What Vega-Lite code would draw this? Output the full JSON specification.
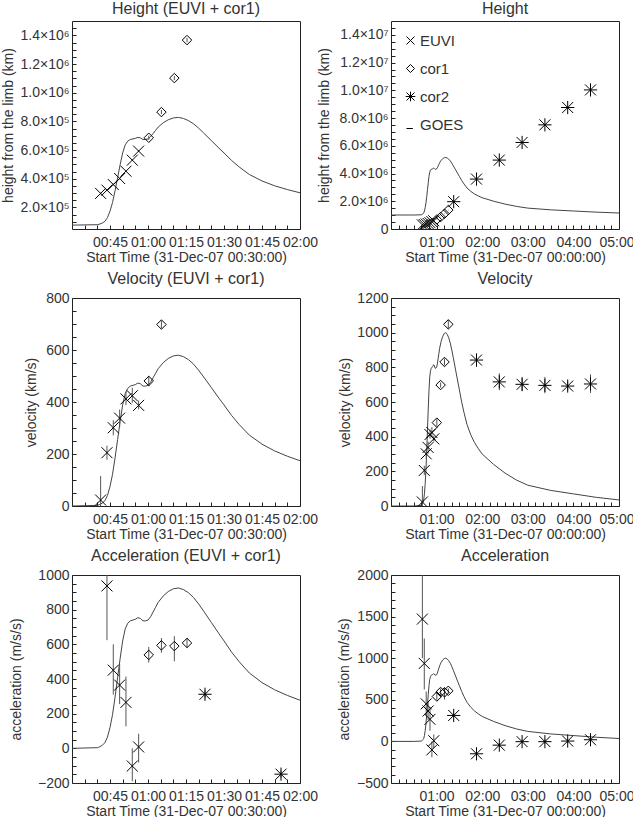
{
  "$schema": "https://vega.github.io/schema/vega-lite/v6.json",
  "background": "white",
  "padding": {"left": 1, "top": 0, "right": 0, "bottom": 0},
  "config": {
    "font": "Liberation Sans",
    "view": {"stroke": "#222", "strokeWidth": 1},
    "axis": {"grid": false, "domain": false, "labelFontSize": 14, "labelColor": "#333", "titleFontSize": 14, "titleFontWeight": "normal", "titleColor": "#333", "tickColor": "#222", "tickWidth": 1, "tickSize": 4, "offset": -4, "tickCount": 100, "labelOverlap": false},
    "axisX": {"labelPadding": 6, "titlePadding": 1},
    "axisY": {"labelPadding": 3},
    "title": {"fontSize": 16, "fontWeight": "normal", "color": "#333", "offset": 4, "anchor": "middle"}
  },
  "columns": 2,
  "bounds": "flush",
  "spacing": {"row": 69, "column": 91},
  "resolve": {"scale": {"x": "independent", "y": "independent", "shape": "independent"}, "legend": {"shape": "independent"}},
  "datasets": {
    "goes_flux": [
      {"t": "2007-12-31T00:00:00", "n": 0},
      {"t": "2007-12-31T00:30:00", "n": 0},
      {"t": "2007-12-31T00:40:00", "n": 0.004},
      {"t": "2007-12-31T00:41:00", "n": 0.01},
      {"t": "2007-12-31T00:42:00", "n": 0.02},
      {"t": "2007-12-31T00:43:00", "n": 0.035},
      {"t": "2007-12-31T00:44:00", "n": 0.07},
      {"t": "2007-12-31T00:45:00", "n": 0.13},
      {"t": "2007-12-31T00:46:00", "n": 0.21},
      {"t": "2007-12-31T00:47:00", "n": 0.32},
      {"t": "2007-12-31T00:48:00", "n": 0.44},
      {"t": "2007-12-31T00:49:00", "n": 0.56},
      {"t": "2007-12-31T00:50:00", "n": 0.67},
      {"t": "2007-12-31T00:51:00", "n": 0.745},
      {"t": "2007-12-31T00:52:00", "n": 0.78},
      {"t": "2007-12-31T00:53:00", "n": 0.795},
      {"t": "2007-12-31T00:55:00", "n": 0.805},
      {"t": "2007-12-31T00:56:00", "n": 0.815},
      {"t": "2007-12-31T00:57:00", "n": 0.81},
      {"t": "2007-12-31T00:58:00", "n": 0.795},
      {"t": "2007-12-31T00:59:00", "n": 0.795},
      {"t": "2007-12-31T01:00:00", "n": 0.8},
      {"t": "2007-12-31T01:01:00", "n": 0.82},
      {"t": "2007-12-31T01:02:00", "n": 0.85},
      {"t": "2007-12-31T01:03:00", "n": 0.88},
      {"t": "2007-12-31T01:04:00", "n": 0.91},
      {"t": "2007-12-31T01:06:00", "n": 0.95},
      {"t": "2007-12-31T01:08:00", "n": 0.978},
      {"t": "2007-12-31T01:10:00", "n": 0.995},
      {"t": "2007-12-31T01:12:00", "n": 1.0},
      {"t": "2007-12-31T01:14:00", "n": 0.99},
      {"t": "2007-12-31T01:16:00", "n": 0.97},
      {"t": "2007-12-31T01:18:00", "n": 0.94},
      {"t": "2007-12-31T01:20:00", "n": 0.9},
      {"t": "2007-12-31T01:22:00", "n": 0.855},
      {"t": "2007-12-31T01:25:00", "n": 0.785},
      {"t": "2007-12-31T01:28:00", "n": 0.715},
      {"t": "2007-12-31T01:30:00", "n": 0.67},
      {"t": "2007-12-31T01:33:00", "n": 0.6},
      {"t": "2007-12-31T01:36:00", "n": 0.54},
      {"t": "2007-12-31T01:40:00", "n": 0.47},
      {"t": "2007-12-31T01:45:00", "n": 0.41},
      {"t": "2007-12-31T01:50:00", "n": 0.365},
      {"t": "2007-12-31T01:55:00", "n": 0.33},
      {"t": "2007-12-31T02:00:00", "n": 0.3},
      {"t": "2007-12-31T02:15:00", "n": 0.24},
      {"t": "2007-12-31T02:30:00", "n": 0.19},
      {"t": "2007-12-31T02:45:00", "n": 0.15},
      {"t": "2007-12-31T03:00:00", "n": 0.12},
      {"t": "2007-12-31T03:30:00", "n": 0.09},
      {"t": "2007-12-31T04:00:00", "n": 0.07},
      {"t": "2007-12-31T04:30:00", "n": 0.05},
      {"t": "2007-12-31T05:00:00", "n": 0.035}
    ],
    "hgt": [
      {"inst": "EUVI", "t": "2007-12-31T00:41:18", "v": 298000, "lo": 292000, "hi": 304000},
      {"inst": "EUVI", "t": "2007-12-31T00:43:48", "v": 321000, "lo": 315000, "hi": 327000},
      {"inst": "EUVI", "t": "2007-12-31T00:46:18", "v": 360000, "lo": 354000, "hi": 366000},
      {"inst": "EUVI", "t": "2007-12-31T00:48:48", "v": 402000, "lo": 396000, "hi": 408000},
      {"inst": "EUVI", "t": "2007-12-31T00:51:18", "v": 453000, "lo": 447000, "hi": 459000},
      {"inst": "EUVI", "t": "2007-12-31T00:53:48", "v": 530000, "lo": 524000, "hi": 536000},
      {"inst": "EUVI", "t": "2007-12-31T00:56:18", "v": 593000, "lo": 587000, "hi": 599000},
      {"inst": "cor1", "t": "2007-12-31T01:00:18", "v": 686000, "lo": 671000, "hi": 701000},
      {"inst": "cor1", "t": "2007-12-31T01:05:18", "v": 865000, "lo": 850000, "hi": 880000},
      {"inst": "cor1", "t": "2007-12-31T01:10:24", "v": 1102000, "lo": 1087000, "hi": 1117000},
      {"inst": "cor1", "t": "2007-12-31T01:15:24", "v": 1367000, "lo": 1352000, "hi": 1382000},
      {"inst": "cor2", "t": "2007-12-31T01:22:30", "v": 1970000, "lo": 1920000, "hi": 2020000},
      {"inst": "cor2", "t": "2007-12-31T01:52:30", "v": 3600000, "lo": 3550000, "hi": 3650000},
      {"inst": "cor2", "t": "2007-12-31T02:22:30", "v": 4970000, "lo": 4920000, "hi": 5020000},
      {"inst": "cor2", "t": "2007-12-31T02:52:30", "v": 6240000, "lo": 6190000, "hi": 6290000},
      {"inst": "cor2", "t": "2007-12-31T03:22:30", "v": 7510000, "lo": 7460000, "hi": 7560000},
      {"inst": "cor2", "t": "2007-12-31T03:52:30", "v": 8760000, "lo": 8710000, "hi": 8810000},
      {"inst": "cor2", "t": "2007-12-31T04:22:30", "v": 10030000, "lo": 9980000, "hi": 10080000}
    ],
    "vel": [
      {"inst": "EUVI", "t": "2007-12-31T00:41:18", "v": 23, "lo": -70, "hi": 115},
      {"inst": "EUVI", "t": "2007-12-31T00:43:48", "v": 205, "lo": 178, "hi": 232},
      {"inst": "EUVI", "t": "2007-12-31T00:46:18", "v": 301, "lo": 272, "hi": 330},
      {"inst": "EUVI", "t": "2007-12-31T00:48:48", "v": 338, "lo": 301, "hi": 371},
      {"inst": "EUVI", "t": "2007-12-31T00:51:18", "v": 412, "lo": 388, "hi": 440},
      {"inst": "EUVI", "t": "2007-12-31T00:53:48", "v": 424, "lo": 397, "hi": 455},
      {"inst": "EUVI", "t": "2007-12-31T00:56:18", "v": 387, "lo": 372, "hi": 405},
      {"inst": "cor1", "t": "2007-12-31T01:00:18", "v": 481, "lo": 461, "hi": 501},
      {"inst": "cor1", "t": "2007-12-31T01:05:18", "v": 698, "lo": 683, "hi": 713},
      {"inst": "cor1", "t": "2007-12-31T01:10:24", "v": 831, "lo": 811, "hi": 851},
      {"inst": "cor1", "t": "2007-12-31T01:15:24", "v": 1048, "lo": 1023, "hi": 1073},
      {"inst": "cor2", "t": "2007-12-31T01:52:30", "v": 842, "lo": 805, "hi": 880},
      {"inst": "cor2", "t": "2007-12-31T02:22:30", "v": 716, "lo": 668, "hi": 766},
      {"inst": "cor2", "t": "2007-12-31T02:52:30", "v": 702, "lo": 662, "hi": 745},
      {"inst": "cor2", "t": "2007-12-31T03:22:30", "v": 696, "lo": 650, "hi": 745},
      {"inst": "cor2", "t": "2007-12-31T03:52:30", "v": 692, "lo": 667, "hi": 717},
      {"inst": "cor2", "t": "2007-12-31T04:22:30", "v": 704, "lo": 652, "hi": 760}
    ],
    "acc": [
      {"inst": "EUVI", "t": "2007-12-31T00:41:18", "v": 1470, "lo": 1000, "hi": 2600},
      {"inst": "EUVI", "t": "2007-12-31T00:43:48", "v": 937, "lo": 624, "hi": 1236},
      {"inst": "EUVI", "t": "2007-12-31T00:46:18", "v": 451, "lo": 310, "hi": 600},
      {"inst": "EUVI", "t": "2007-12-31T00:48:48", "v": 365, "lo": 255, "hi": 486},
      {"inst": "EUVI", "t": "2007-12-31T00:51:18", "v": 265, "lo": 127, "hi": 414},
      {"inst": "EUVI", "t": "2007-12-31T00:53:48", "v": -102, "lo": -190, "hi": 0},
      {"inst": "EUVI", "t": "2007-12-31T00:56:18", "v": 8, "lo": -82, "hi": 84},
      {"inst": "cor1", "t": "2007-12-31T01:00:18", "v": 539, "lo": 495, "hi": 585},
      {"inst": "cor1", "t": "2007-12-31T01:05:18", "v": 594, "lo": 552, "hi": 636},
      {"inst": "cor1", "t": "2007-12-31T01:10:24", "v": 590, "lo": 502, "hi": 647},
      {"inst": "cor1", "t": "2007-12-31T01:15:24", "v": 608, "lo": 578, "hi": 637},
      {"inst": "cor2", "t": "2007-12-31T01:22:30", "v": 312, "lo": 290, "hi": 335},
      {"inst": "cor2", "t": "2007-12-31T01:52:30", "v": -149, "lo": -170, "hi": -128},
      {"inst": "cor2", "t": "2007-12-31T02:22:30", "v": -45, "lo": -70, "hi": -20},
      {"inst": "cor2", "t": "2007-12-31T02:52:30", "v": -3, "lo": -25, "hi": 20},
      {"inst": "cor2", "t": "2007-12-31T03:22:30", "v": -3, "lo": -30, "hi": 25},
      {"inst": "cor2", "t": "2007-12-31T03:52:30", "v": 4, "lo": -20, "hi": 28},
      {"inst": "cor2", "t": "2007-12-31T04:22:30", "v": 20, "lo": -10, "hi": 50}
    ]
  },
  "concat": [
    {
      "title": "Height (EUVI + cor1)",
      "width": 228, "height": 208,
      "resolve": {"scale": {"y": "independent"}},
      "layer": [
        {
          "data": {"name": "goes_flux"},
          "mark": {"type": "line", "color": "#444", "strokeWidth": 1, "clip": true},
          "encoding": {
            "x": {"field": "t", "type": "temporal", "scale": {"domain": [{"year": 2007, "month": 12, "date": 31, "hours": 0, "minutes": 30}, {"year": 2007, "month": 12, "date": 31, "hours": 2, "minutes": 0}], "nice": false},
              "axis": {"values": [{"year": 2007, "month": 12, "date": 31, "hours": 0, "minutes": 35}, {"year": 2007, "month": 12, "date": 31, "hours": 0, "minutes": 40}, {"year": 2007, "month": 12, "date": 31, "hours": 0, "minutes": 45}, {"year": 2007, "month": 12, "date": 31, "hours": 0, "minutes": 50}, {"year": 2007, "month": 12, "date": 31, "hours": 0, "minutes": 55}, {"year": 2007, "month": 12, "date": 31, "hours": 1, "minutes": 0}, {"year": 2007, "month": 12, "date": 31, "hours": 1, "minutes": 5}, {"year": 2007, "month": 12, "date": 31, "hours": 1, "minutes": 10}, {"year": 2007, "month": 12, "date": 31, "hours": 1, "minutes": 15}, {"year": 2007, "month": 12, "date": 31, "hours": 1, "minutes": 20}, {"year": 2007, "month": 12, "date": 31, "hours": 1, "minutes": 25}, {"year": 2007, "month": 12, "date": 31, "hours": 1, "minutes": 30}, {"year": 2007, "month": 12, "date": 31, "hours": 1, "minutes": 35}, {"year": 2007, "month": 12, "date": 31, "hours": 1, "minutes": 40}, {"year": 2007, "month": 12, "date": 31, "hours": 1, "minutes": 45}, {"year": 2007, "month": 12, "date": 31, "hours": 1, "minutes": 50}, {"year": 2007, "month": 12, "date": 31, "hours": 1, "minutes": 55}, {"year": 2007, "month": 12, "date": 31, "hours": 2, "minutes": 0}],
                "labelExpr": "(hours(datum.value) * 60 + minutes(datum.value)) % 15 == 0 ? timeFormat(datum.value, '%H:%M') : ''", "tickCount": 100, "labelOverlap": false, "labelFlush": false, "title": "Start Time (31-Dec-07 00:30:00)"}},
            "y": {"field": "n", "type": "quantitative", "scale": {"domain": [-0.036, 1.895], "nice": false, "zero": false}, "axis": null}
          }
        },
        {
          "data": {"name": "hgt"},
          "layer": [
            {
              "mark": {"type": "rule", "color": "#555", "strokeWidth": 1, "clip": true},
              "encoding": {
                "x": {"field": "t", "type": "temporal"},
                "y": {"field": "lo", "type": "quantitative", "scale": {"domain": [50000, 1500000], "nice": false, "zero": false},
                  "axis": {"values": [100000, 150000, 200000, 250000, 300000, 350000, 400000, 450000, 500000, 550000, 600000, 650000, 700000, 750000, 800000, 850000, 900000, 950000, 1000000, 1050000, 1100000, 1150000, 1200000, 1250000, 1300000, 1350000, 1400000, 1450000],
                    "labelExpr": "datum.value % 200000 != 0 ? '' : datum.value >= 1e6 ? format(datum.value / 1e6, '.1f') + '×10⁶' : format(datum.value / 1e5, '.1f') + '×10⁵'", "tickCount": 100, "labelOverlap": false, "title": "height from the limb (km)", "titlePadding": 4}},
                "y2": {"field": "hi"}
              }
            },
            {
              "transform": [{"filter": "datum.inst === 'EUVI'"}],
              "mark": {"type": "point", "shape": "M-1,-1L1,1M-1,1L1,-1", "size": 121, "filled": false, "color": "black", "strokeWidth": 1, "opacity": 1, "clip": true},
              "encoding": {"x": {"field": "t", "type": "temporal"}, "y": {"field": "v", "type": "quantitative"}}
            },
            {
              "transform": [{"filter": "datum.inst === 'cor1'"}],
              "mark": {"type": "point", "shape": "diamond", "size": 90, "filled": false, "color": "black", "strokeWidth": 1, "opacity": 1, "clip": true},
              "encoding": {"x": {"field": "t", "type": "temporal"}, "y": {"field": "v", "type": "quantitative"}}
            },
            {
              "transform": [{"filter": "datum.inst === 'cor2'"}],
              "mark": {"type": "point", "shape": "M-1,-1L1,1M-1,1L1,-1M0,-1.2L0,1.2M-1.2,0L1.2,0", "size": 121, "filled": false, "color": "black", "strokeWidth": 1, "opacity": 1, "clip": true},
              "encoding": {"x": {"field": "t", "type": "temporal"}, "y": {"field": "v", "type": "quantitative"}}
            }
          ]
        }
      ]
    },
    {
      "title": "Height",
      "width": 228, "height": 208,
      "resolve": {"scale": {"y": "independent"}},
      "layer": [
        {
          "data": {"name": "goes_flux"},
          "mark": {"type": "line", "color": "#444", "strokeWidth": 1, "clip": true},
          "encoding": {
            "x": {"field": "t", "type": "temporal", "scale": {"domain": [{"year": 2007, "month": 12, "date": 31, "hours": 0, "minutes": 0}, {"year": 2007, "month": 12, "date": 31, "hours": 5, "minutes": 0}], "nice": false},
              "axis": {"values": [{"year": 2007, "month": 12, "date": 31, "hours": 0, "minutes": 10}, {"year": 2007, "month": 12, "date": 31, "hours": 0, "minutes": 20}, {"year": 2007, "month": 12, "date": 31, "hours": 0, "minutes": 30}, {"year": 2007, "month": 12, "date": 31, "hours": 0, "minutes": 40}, {"year": 2007, "month": 12, "date": 31, "hours": 0, "minutes": 50}, {"year": 2007, "month": 12, "date": 31, "hours": 1, "minutes": 0}, {"year": 2007, "month": 12, "date": 31, "hours": 1, "minutes": 10}, {"year": 2007, "month": 12, "date": 31, "hours": 1, "minutes": 20}, {"year": 2007, "month": 12, "date": 31, "hours": 1, "minutes": 30}, {"year": 2007, "month": 12, "date": 31, "hours": 1, "minutes": 40}, {"year": 2007, "month": 12, "date": 31, "hours": 1, "minutes": 50}, {"year": 2007, "month": 12, "date": 31, "hours": 2, "minutes": 0}, {"year": 2007, "month": 12, "date": 31, "hours": 2, "minutes": 10}, {"year": 2007, "month": 12, "date": 31, "hours": 2, "minutes": 20}, {"year": 2007, "month": 12, "date": 31, "hours": 2, "minutes": 30}, {"year": 2007, "month": 12, "date": 31, "hours": 2, "minutes": 40}, {"year": 2007, "month": 12, "date": 31, "hours": 2, "minutes": 50}, {"year": 2007, "month": 12, "date": 31, "hours": 3, "minutes": 0}, {"year": 2007, "month": 12, "date": 31, "hours": 3, "minutes": 10}, {"year": 2007, "month": 12, "date": 31, "hours": 3, "minutes": 20}, {"year": 2007, "month": 12, "date": 31, "hours": 3, "minutes": 30}, {"year": 2007, "month": 12, "date": 31, "hours": 3, "minutes": 40}, {"year": 2007, "month": 12, "date": 31, "hours": 3, "minutes": 50}, {"year": 2007, "month": 12, "date": 31, "hours": 4, "minutes": 0}, {"year": 2007, "month": 12, "date": 31, "hours": 4, "minutes": 10}, {"year": 2007, "month": 12, "date": 31, "hours": 4, "minutes": 20}, {"year": 2007, "month": 12, "date": 31, "hours": 4, "minutes": 30}, {"year": 2007, "month": 12, "date": 31, "hours": 4, "minutes": 40}, {"year": 2007, "month": 12, "date": 31, "hours": 4, "minutes": 50}, {"year": 2007, "month": 12, "date": 31, "hours": 5, "minutes": 0}],
                "labelExpr": "minutes(datum.value) == 0 ? timeFormat(datum.value, '%H:%M') : ''", "tickCount": 100, "labelOverlap": false, "labelFlush": true, "labelFlushOffset": 15, "title": "Start Time (31-Dec-07 00:00:00)"}},
            "y": {"field": "n", "type": "quantitative", "scale": {"domain": [-0.243, 3.371], "nice": false, "zero": false}, "axis": null}
          }
        },
        {
          "data": {"name": "hgt"},
          "layer": [
            {
              "mark": {"type": "rule", "color": "#555", "strokeWidth": 1, "clip": true},
              "encoding": {
                "x": {"field": "t", "type": "temporal"},
                "y": {"field": "lo", "type": "quantitative", "scale": {"domain": [0, 15000000], "nice": false, "zero": false},
                  "axis": {"values": [0, 500000, 1000000, 1500000, 2000000, 2500000, 3000000, 3500000, 4000000, 4500000, 5000000, 5500000, 6000000, 6500000, 7000000, 7500000, 8000000, 8500000, 9000000, 9500000, 10000000, 10500000, 11000000, 11500000, 12000000, 12500000, 13000000, 13500000, 14000000, 14500000],
                    "labelExpr": "datum.value % 2000000 != 0 ? '' : datum.value == 0 ? '0' : datum.value >= 1e7 ? format(datum.value / 1e7, '.1f') + '×10⁷' : format(datum.value / 1e6, '.1f') + '×10⁶'", "tickCount": 100, "labelOverlap": false, "title": "height from the limb (km)", "titlePadding": 8}},
                "y2": {"field": "hi"}
              }
            },
            {
              "transform": [{"filter": "datum.inst === 'EUVI'"}],
              "mark": {"type": "point", "size": 121, "filled": false, "color": "black", "strokeWidth": 1, "opacity": 1, "clip": true},
              "encoding": {"x": {"field": "t", "type": "temporal"}, "y": {"field": "v", "type": "quantitative"},
                "shape": {"datum": "EUVI", "type": "nominal",
                  "scale": {"domain": ["EUVI", "cor1", "cor2", "GOES"], "range": ["M-1,-1L1,1M-1,1L1,-1", "diamond", "M-1,-1L1,1M-1,1L1,-1M0,-1.2L0,1.2M-1.2,0L1.2,0", "M-1,1L0.6,1"]},
                  "legend": {"title": null, "orient": "top-left", "offset": 12, "symbolSize": 64, "symbolStrokeWidth": 1, "symbolStrokeColor": "black", "symbolFillColor": "transparent", "labelFontSize": 15, "labelColor": "#333", "labelOffset": 2, "rowPadding": 12}}}
            },
            {
              "transform": [{"filter": "datum.inst === 'cor1'"}],
              "mark": {"type": "point", "size": 90, "filled": false, "color": "black", "strokeWidth": 1, "opacity": 1, "clip": true},
              "encoding": {"x": {"field": "t", "type": "temporal"}, "y": {"field": "v", "type": "quantitative"}, "shape": {"datum": "cor1", "type": "nominal"}}
            },
            {
              "transform": [{"filter": "datum.inst === 'cor2'"}],
              "mark": {"type": "point", "size": 121, "filled": false, "color": "black", "strokeWidth": 1, "opacity": 1, "clip": true},
              "encoding": {"x": {"field": "t", "type": "temporal"}, "y": {"field": "v", "type": "quantitative"}, "shape": {"datum": "cor2", "type": "nominal"}}
            }
          ]
        }
      ]
    },
    {
      "title": "Velocity (EUVI + cor1)",
      "width": 228, "height": 208,
      "resolve": {"scale": {"y": "independent"}},
      "layer": [
        {
          "data": {"name": "goes_flux"},
          "mark": {"type": "line", "color": "#444", "strokeWidth": 1, "clip": true},
          "encoding": {
            "x": {"field": "t", "type": "temporal", "scale": {"domain": [{"year": 2007, "month": 12, "date": 31, "hours": 0, "minutes": 30}, {"year": 2007, "month": 12, "date": 31, "hours": 2, "minutes": 0}], "nice": false},
              "axis": {"values": [{"year": 2007, "month": 12, "date": 31, "hours": 0, "minutes": 35}, {"year": 2007, "month": 12, "date": 31, "hours": 0, "minutes": 40}, {"year": 2007, "month": 12, "date": 31, "hours": 0, "minutes": 45}, {"year": 2007, "month": 12, "date": 31, "hours": 0, "minutes": 50}, {"year": 2007, "month": 12, "date": 31, "hours": 0, "minutes": 55}, {"year": 2007, "month": 12, "date": 31, "hours": 1, "minutes": 0}, {"year": 2007, "month": 12, "date": 31, "hours": 1, "minutes": 5}, {"year": 2007, "month": 12, "date": 31, "hours": 1, "minutes": 10}, {"year": 2007, "month": 12, "date": 31, "hours": 1, "minutes": 15}, {"year": 2007, "month": 12, "date": 31, "hours": 1, "minutes": 20}, {"year": 2007, "month": 12, "date": 31, "hours": 1, "minutes": 25}, {"year": 2007, "month": 12, "date": 31, "hours": 1, "minutes": 30}, {"year": 2007, "month": 12, "date": 31, "hours": 1, "minutes": 35}, {"year": 2007, "month": 12, "date": 31, "hours": 1, "minutes": 40}, {"year": 2007, "month": 12, "date": 31, "hours": 1, "minutes": 45}, {"year": 2007, "month": 12, "date": 31, "hours": 1, "minutes": 50}, {"year": 2007, "month": 12, "date": 31, "hours": 1, "minutes": 55}, {"year": 2007, "month": 12, "date": 31, "hours": 2, "minutes": 0}],
                "labelExpr": "(hours(datum.value) * 60 + minutes(datum.value)) % 15 == 0 ? timeFormat(datum.value, '%H:%M') : ''", "tickCount": 100, "labelOverlap": false, "labelFlush": false, "title": "Start Time (31-Dec-07 00:30:00)"}},
            "y": {"field": "n", "type": "quantitative", "scale": {"domain": [0, 1.379], "nice": false, "zero": false}, "axis": null}
          }
        },
        {
          "data": {"name": "vel"},
          "layer": [
            {
              "mark": {"type": "rule", "color": "#555", "strokeWidth": 1, "clip": true},
              "encoding": {
                "x": {"field": "t", "type": "temporal"},
                "y": {"field": "lo", "type": "quantitative", "scale": {"domain": [0, 800], "nice": false, "zero": false},
                  "axis": {"values": [0, 50, 100, 150, 200, 250, 300, 350, 400, 450, 500, 550, 600, 650, 700, 750, 800], "labelExpr": "datum.value % 200 == 0 ? format(datum.value, 'd') : ''", "tickCount": 100, "labelOverlap": false, "title": "velocity (km/s)", "titlePadding": 7}},
                "y2": {"field": "hi"}
              }
            },
            {
              "transform": [{"filter": "datum.inst === 'EUVI'"}],
              "mark": {"type": "point", "shape": "M-1,-1L1,1M-1,1L1,-1", "size": 121, "filled": false, "color": "black", "strokeWidth": 1, "opacity": 1, "clip": true},
              "encoding": {"x": {"field": "t", "type": "temporal"}, "y": {"field": "v", "type": "quantitative"}}
            },
            {
              "transform": [{"filter": "datum.inst === 'cor1'"}],
              "mark": {"type": "point", "shape": "diamond", "size": 90, "filled": false, "color": "black", "strokeWidth": 1, "opacity": 1, "clip": true},
              "encoding": {"x": {"field": "t", "type": "temporal"}, "y": {"field": "v", "type": "quantitative"}}
            },
            {
              "transform": [{"filter": "datum.inst === 'cor2'"}],
              "mark": {"type": "point", "shape": "M-1,-1L1,1M-1,1L1,-1M0,-1.2L0,1.2M-1.2,0L1.2,0", "size": 121, "filled": false, "color": "black", "strokeWidth": 1, "opacity": 1, "clip": true},
              "encoding": {"x": {"field": "t", "type": "temporal"}, "y": {"field": "v", "type": "quantitative"}}
            }
          ]
        }
      ]
    },
    {
      "title": "Velocity",
      "width": 228, "height": 208,
      "resolve": {"scale": {"y": "independent"}},
      "layer": [
        {
          "data": {"name": "goes_flux"},
          "mark": {"type": "line", "color": "#444", "strokeWidth": 1, "clip": true},
          "encoding": {
            "x": {"field": "t", "type": "temporal", "scale": {"domain": [{"year": 2007, "month": 12, "date": 31, "hours": 0, "minutes": 0}, {"year": 2007, "month": 12, "date": 31, "hours": 5, "minutes": 0}], "nice": false},
              "axis": {"values": [{"year": 2007, "month": 12, "date": 31, "hours": 0, "minutes": 10}, {"year": 2007, "month": 12, "date": 31, "hours": 0, "minutes": 20}, {"year": 2007, "month": 12, "date": 31, "hours": 0, "minutes": 30}, {"year": 2007, "month": 12, "date": 31, "hours": 0, "minutes": 40}, {"year": 2007, "month": 12, "date": 31, "hours": 0, "minutes": 50}, {"year": 2007, "month": 12, "date": 31, "hours": 1, "minutes": 0}, {"year": 2007, "month": 12, "date": 31, "hours": 1, "minutes": 10}, {"year": 2007, "month": 12, "date": 31, "hours": 1, "minutes": 20}, {"year": 2007, "month": 12, "date": 31, "hours": 1, "minutes": 30}, {"year": 2007, "month": 12, "date": 31, "hours": 1, "minutes": 40}, {"year": 2007, "month": 12, "date": 31, "hours": 1, "minutes": 50}, {"year": 2007, "month": 12, "date": 31, "hours": 2, "minutes": 0}, {"year": 2007, "month": 12, "date": 31, "hours": 2, "minutes": 10}, {"year": 2007, "month": 12, "date": 31, "hours": 2, "minutes": 20}, {"year": 2007, "month": 12, "date": 31, "hours": 2, "minutes": 30}, {"year": 2007, "month": 12, "date": 31, "hours": 2, "minutes": 40}, {"year": 2007, "month": 12, "date": 31, "hours": 2, "minutes": 50}, {"year": 2007, "month": 12, "date": 31, "hours": 3, "minutes": 0}, {"year": 2007, "month": 12, "date": 31, "hours": 3, "minutes": 10}, {"year": 2007, "month": 12, "date": 31, "hours": 3, "minutes": 20}, {"year": 2007, "month": 12, "date": 31, "hours": 3, "minutes": 30}, {"year": 2007, "month": 12, "date": 31, "hours": 3, "minutes": 40}, {"year": 2007, "month": 12, "date": 31, "hours": 3, "minutes": 50}, {"year": 2007, "month": 12, "date": 31, "hours": 4, "minutes": 0}, {"year": 2007, "month": 12, "date": 31, "hours": 4, "minutes": 10}, {"year": 2007, "month": 12, "date": 31, "hours": 4, "minutes": 20}, {"year": 2007, "month": 12, "date": 31, "hours": 4, "minutes": 30}, {"year": 2007, "month": 12, "date": 31, "hours": 4, "minutes": 40}, {"year": 2007, "month": 12, "date": 31, "hours": 4, "minutes": 50}, {"year": 2007, "month": 12, "date": 31, "hours": 5, "minutes": 0}],
                "labelExpr": "minutes(datum.value) == 0 ? timeFormat(datum.value, '%H:%M') : ''", "tickCount": 100, "labelOverlap": false, "labelFlush": true, "labelFlushOffset": 15, "title": "Start Time (31-Dec-07 00:00:00)"}},
            "y": {"field": "n", "type": "quantitative", "scale": {"domain": [0, 1.2], "nice": false, "zero": false}, "axis": null}
          }
        },
        {
          "data": {"name": "vel"},
          "layer": [
            {
              "mark": {"type": "rule", "color": "#555", "strokeWidth": 1, "clip": true},
              "encoding": {
                "x": {"field": "t", "type": "temporal"},
                "y": {"field": "lo", "type": "quantitative", "scale": {"domain": [0, 1200], "nice": false, "zero": false},
                  "axis": {"values": [0, 50, 100, 150, 200, 250, 300, 350, 400, 450, 500, 550, 600, 650, 700, 750, 800, 850, 900, 950, 1000, 1050, 1100, 1150, 1200], "labelExpr": "datum.value % 200 == 0 ? format(datum.value, 'd') : ''", "tickCount": 100, "labelOverlap": false, "title": "velocity (km/s)", "titlePadding": 4}},
                "y2": {"field": "hi"}
              }
            },
            {
              "transform": [{"filter": "datum.inst === 'EUVI'"}],
              "mark": {"type": "point", "shape": "M-1,-1L1,1M-1,1L1,-1", "size": 121, "filled": false, "color": "black", "strokeWidth": 1, "opacity": 1, "clip": true},
              "encoding": {"x": {"field": "t", "type": "temporal"}, "y": {"field": "v", "type": "quantitative"}}
            },
            {
              "transform": [{"filter": "datum.inst === 'cor1'"}],
              "mark": {"type": "point", "shape": "diamond", "size": 90, "filled": false, "color": "black", "strokeWidth": 1, "opacity": 1, "clip": true},
              "encoding": {"x": {"field": "t", "type": "temporal"}, "y": {"field": "v", "type": "quantitative"}}
            },
            {
              "transform": [{"filter": "datum.inst === 'cor2'"}],
              "mark": {"type": "point", "shape": "M-1,-1L1,1M-1,1L1,-1M0,-1.2L0,1.2M-1.2,0L1.2,0", "size": 121, "filled": false, "color": "black", "strokeWidth": 1, "opacity": 1, "clip": true},
              "encoding": {"x": {"field": "t", "type": "temporal"}, "y": {"field": "v", "type": "quantitative"}}
            }
          ]
        }
      ]
    },
    {
      "title": "Acceleration (EUVI + cor1)",
      "width": 228, "height": 208,
      "resolve": {"scale": {"y": "independent"}},
      "layer": [
        {
          "data": {"name": "goes_flux"},
          "mark": {"type": "line", "color": "#444", "strokeWidth": 1, "clip": true},
          "encoding": {
            "x": {"field": "t", "type": "temporal", "scale": {"domain": [{"year": 2007, "month": 12, "date": 31, "hours": 0, "minutes": 30}, {"year": 2007, "month": 12, "date": 31, "hours": 2, "minutes": 0}], "nice": false},
              "axis": {"values": [{"year": 2007, "month": 12, "date": 31, "hours": 0, "minutes": 35}, {"year": 2007, "month": 12, "date": 31, "hours": 0, "minutes": 40}, {"year": 2007, "month": 12, "date": 31, "hours": 0, "minutes": 45}, {"year": 2007, "month": 12, "date": 31, "hours": 0, "minutes": 50}, {"year": 2007, "month": 12, "date": 31, "hours": 0, "minutes": 55}, {"year": 2007, "month": 12, "date": 31, "hours": 1, "minutes": 0}, {"year": 2007, "month": 12, "date": 31, "hours": 1, "minutes": 5}, {"year": 2007, "month": 12, "date": 31, "hours": 1, "minutes": 10}, {"year": 2007, "month": 12, "date": 31, "hours": 1, "minutes": 15}, {"year": 2007, "month": 12, "date": 31, "hours": 1, "minutes": 20}, {"year": 2007, "month": 12, "date": 31, "hours": 1, "minutes": 25}, {"year": 2007, "month": 12, "date": 31, "hours": 1, "minutes": 30}, {"year": 2007, "month": 12, "date": 31, "hours": 1, "minutes": 35}, {"year": 2007, "month": 12, "date": 31, "hours": 1, "minutes": 40}, {"year": 2007, "month": 12, "date": 31, "hours": 1, "minutes": 45}, {"year": 2007, "month": 12, "date": 31, "hours": 1, "minutes": 50}, {"year": 2007, "month": 12, "date": 31, "hours": 1, "minutes": 55}, {"year": 2007, "month": 12, "date": 31, "hours": 2, "minutes": 0}],
                "labelExpr": "(hours(datum.value) * 60 + minutes(datum.value)) % 15 == 0 ? timeFormat(datum.value, '%H:%M') : ''", "tickCount": 100, "labelOverlap": false, "labelFlush": false, "title": "Start Time (31-Dec-07 00:30:00)"}},
            "y": {"field": "n", "type": "quantitative", "scale": {"domain": [-0.2162, 1.081], "nice": false, "zero": false}, "axis": null}
          }
        },
        {
          "data": {"name": "acc"},
          "layer": [
            {
              "mark": {"type": "rule", "color": "#555", "strokeWidth": 1, "clip": true},
              "encoding": {
                "x": {"field": "t", "type": "temporal"},
                "y": {"field": "lo", "type": "quantitative", "scale": {"domain": [-200, 1000], "nice": false, "zero": false},
                  "axis": {"values": [-200, -150, -100, -50, 0, 50, 100, 150, 200, 250, 300, 350, 400, 450, 500, 550, 600, 650, 700, 750, 800, 850, 900, 950, 1000], "labelExpr": "datum.value % 200 == 0 ? format(datum.value, 'd') : ''", "tickCount": 100, "labelOverlap": false, "title": "acceleration (m/s/s)", "titlePadding": 14}},
                "y2": {"field": "hi"}
              }
            },
            {
              "transform": [{"filter": "datum.inst === 'EUVI'"}],
              "mark": {"type": "point", "shape": "M-1,-1L1,1M-1,1L1,-1", "size": 121, "filled": false, "color": "black", "strokeWidth": 1, "opacity": 1, "clip": true},
              "encoding": {"x": {"field": "t", "type": "temporal"}, "y": {"field": "v", "type": "quantitative"}}
            },
            {
              "transform": [{"filter": "datum.inst === 'cor1'"}],
              "mark": {"type": "point", "shape": "diamond", "size": 90, "filled": false, "color": "black", "strokeWidth": 1, "opacity": 1, "clip": true},
              "encoding": {"x": {"field": "t", "type": "temporal"}, "y": {"field": "v", "type": "quantitative"}}
            },
            {
              "transform": [{"filter": "datum.inst === 'cor2'"}],
              "mark": {"type": "point", "shape": "M-1,-1L1,1M-1,1L1,-1M0,-1.2L0,1.2M-1.2,0L1.2,0", "size": 121, "filled": false, "color": "black", "strokeWidth": 1, "opacity": 1, "clip": true},
              "encoding": {"x": {"field": "t", "type": "temporal"}, "y": {"field": "v", "type": "quantitative"}}
            }
          ]
        }
      ]
    },
    {
      "title": "Acceleration",
      "width": 228, "height": 208,
      "resolve": {"scale": {"y": "independent"}},
      "layer": [
        {
          "data": {"name": "goes_flux"},
          "mark": {"type": "line", "color": "#444", "strokeWidth": 1, "clip": true},
          "encoding": {
            "x": {"field": "t", "type": "temporal", "scale": {"domain": [{"year": 2007, "month": 12, "date": 31, "hours": 0, "minutes": 0}, {"year": 2007, "month": 12, "date": 31, "hours": 5, "minutes": 0}], "nice": false},
              "axis": {"values": [{"year": 2007, "month": 12, "date": 31, "hours": 0, "minutes": 10}, {"year": 2007, "month": 12, "date": 31, "hours": 0, "minutes": 20}, {"year": 2007, "month": 12, "date": 31, "hours": 0, "minutes": 30}, {"year": 2007, "month": 12, "date": 31, "hours": 0, "minutes": 40}, {"year": 2007, "month": 12, "date": 31, "hours": 0, "minutes": 50}, {"year": 2007, "month": 12, "date": 31, "hours": 1, "minutes": 0}, {"year": 2007, "month": 12, "date": 31, "hours": 1, "minutes": 10}, {"year": 2007, "month": 12, "date": 31, "hours": 1, "minutes": 20}, {"year": 2007, "month": 12, "date": 31, "hours": 1, "minutes": 30}, {"year": 2007, "month": 12, "date": 31, "hours": 1, "minutes": 40}, {"year": 2007, "month": 12, "date": 31, "hours": 1, "minutes": 50}, {"year": 2007, "month": 12, "date": 31, "hours": 2, "minutes": 0}, {"year": 2007, "month": 12, "date": 31, "hours": 2, "minutes": 10}, {"year": 2007, "month": 12, "date": 31, "hours": 2, "minutes": 20}, {"year": 2007, "month": 12, "date": 31, "hours": 2, "minutes": 30}, {"year": 2007, "month": 12, "date": 31, "hours": 2, "minutes": 40}, {"year": 2007, "month": 12, "date": 31, "hours": 2, "minutes": 50}, {"year": 2007, "month": 12, "date": 31, "hours": 3, "minutes": 0}, {"year": 2007, "month": 12, "date": 31, "hours": 3, "minutes": 10}, {"year": 2007, "month": 12, "date": 31, "hours": 3, "minutes": 20}, {"year": 2007, "month": 12, "date": 31, "hours": 3, "minutes": 30}, {"year": 2007, "month": 12, "date": 31, "hours": 3, "minutes": 40}, {"year": 2007, "month": 12, "date": 31, "hours": 3, "minutes": 50}, {"year": 2007, "month": 12, "date": 31, "hours": 4, "minutes": 0}, {"year": 2007, "month": 12, "date": 31, "hours": 4, "minutes": 10}, {"year": 2007, "month": 12, "date": 31, "hours": 4, "minutes": 20}, {"year": 2007, "month": 12, "date": 31, "hours": 4, "minutes": 30}, {"year": 2007, "month": 12, "date": 31, "hours": 4, "minutes": 40}, {"year": 2007, "month": 12, "date": 31, "hours": 4, "minutes": 50}, {"year": 2007, "month": 12, "date": 31, "hours": 5, "minutes": 0}],
                "labelExpr": "minutes(datum.value) == 0 ? timeFormat(datum.value, '%H:%M') : ''", "tickCount": 100, "labelOverlap": false, "labelFlush": true, "labelFlushOffset": 15, "title": "Start Time (31-Dec-07 00:00:00)"}},
            "y": {"field": "n", "type": "quantitative", "scale": {"domain": [-0.5, 2.0], "nice": false, "zero": false}, "axis": null}
          }
        },
        {
          "data": {"name": "acc"},
          "layer": [
            {
              "mark": {"type": "rule", "color": "#555", "strokeWidth": 1, "clip": true},
              "encoding": {
                "x": {"field": "t", "type": "temporal"},
                "y": {"field": "lo", "type": "quantitative", "scale": {"domain": [-500, 2000], "nice": false, "zero": false},
                  "axis": {"values": [-500, -400, -300, -200, -100, 0, 100, 200, 300, 400, 500, 600, 700, 800, 900, 1000, 1100, 1200, 1300, 1400, 1500, 1600, 1700, 1800, 1900, 2000], "labelExpr": "datum.value % 500 == 0 ? format(datum.value, 'd') : ''", "tickCount": 100, "labelOverlap": false, "title": "acceleration (m/s/s)", "titlePadding": 5}},
                "y2": {"field": "hi"}
              }
            },
            {
              "transform": [{"filter": "datum.inst === 'EUVI'"}],
              "mark": {"type": "point", "shape": "M-1,-1L1,1M-1,1L1,-1", "size": 121, "filled": false, "color": "black", "strokeWidth": 1, "opacity": 1, "clip": true},
              "encoding": {"x": {"field": "t", "type": "temporal"}, "y": {"field": "v", "type": "quantitative"}}
            },
            {
              "transform": [{"filter": "datum.inst === 'cor1'"}],
              "mark": {"type": "point", "shape": "diamond", "size": 90, "filled": false, "color": "black", "strokeWidth": 1, "opacity": 1, "clip": true},
              "encoding": {"x": {"field": "t", "type": "temporal"}, "y": {"field": "v", "type": "quantitative"}}
            },
            {
              "transform": [{"filter": "datum.inst === 'cor2'"}],
              "mark": {"type": "point", "shape": "M-1,-1L1,1M-1,1L1,-1M0,-1.2L0,1.2M-1.2,0L1.2,0", "size": 121, "filled": false, "color": "black", "strokeWidth": 1, "opacity": 1, "clip": true},
              "encoding": {"x": {"field": "t", "type": "temporal"}, "y": {"field": "v", "type": "quantitative"}}
            }
          ]
        }
      ]
    }
  ]
}
